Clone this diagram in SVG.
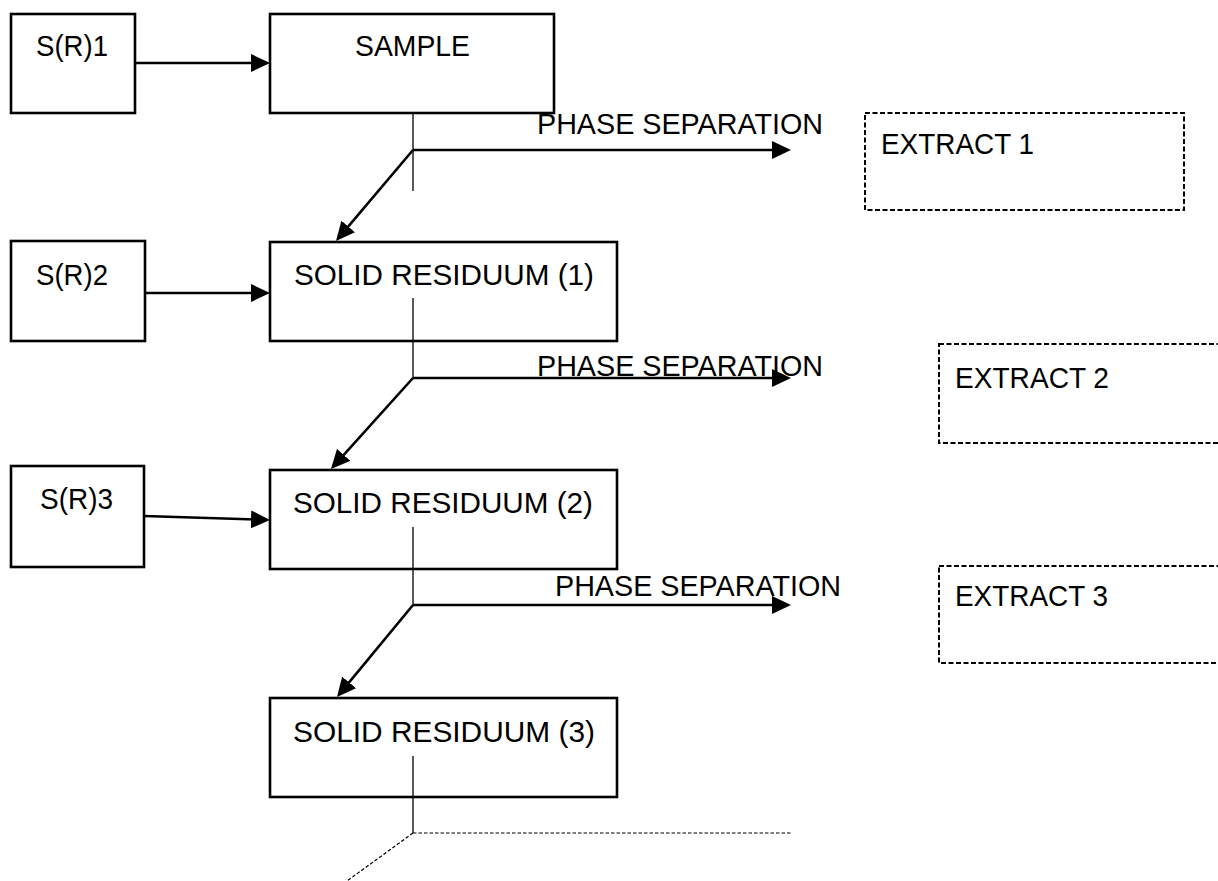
<svg xmlns="http://www.w3.org/2000/svg" width="1218" height="881" viewBox="0 0 1218 881">
<defs>
<marker id="ah" viewBox="0 0 19 18" refX="10" refY="9" markerWidth="19" markerHeight="18" markerUnits="userSpaceOnUse" orient="auto">
<path d="M0,0 L19,9 L0,18 z" fill="#000"/>
</marker>
<style>
.box{fill:#fff;stroke:#000;stroke-width:2.6}
.dbox{fill:none;stroke:#000;stroke-width:2;stroke-dasharray:5 2.5}
.t{font-family:"Liberation Sans",Arial,sans-serif;font-size:30px;fill:#000}
.thick{fill:none;stroke:#000;stroke-width:2.6}
.thin{fill:none;stroke:#000;stroke-width:1.3}
.dash{fill:none;stroke:#000;stroke-width:1.2;stroke-dasharray:3.5 2}
</style>
</defs>
<rect width="1218" height="881" fill="#fff"/>

<g id="sr1"><rect class="box" x="11" y="14" width="124" height="99"/><text class="t" x="36" y="56" textLength="72" lengthAdjust="spacingAndGlyphs">S(R)1</text></g>
<g id="sample"><rect class="box" x="270" y="14" width="284" height="99"/><text class="t" x="355" y="56" textLength="115" lengthAdjust="spacingAndGlyphs">SAMPLE</text></g>
<g id="extract1"><rect class="dbox" x="865" y="113" width="319" height="97"/><text class="t" x="881" y="154" textLength="153" lengthAdjust="spacingAndGlyphs">EXTRACT 1</text></g>

<g id="sr2"><rect class="box" x="11" y="241" width="134" height="100"/><text class="t" x="36" y="285" textLength="72" lengthAdjust="spacingAndGlyphs">S(R)2</text></g>
<g id="residuum1"><rect class="box" x="270" y="242" width="347" height="99"/><text class="t" x="294" y="285" textLength="300" lengthAdjust="spacingAndGlyphs">SOLID RESIDUUM (1)</text></g>
<g id="extract2"><rect class="dbox" x="939" y="344" width="300" height="99"/><text class="t" x="955" y="388" textLength="154" lengthAdjust="spacingAndGlyphs">EXTRACT 2</text></g>

<g id="sr3"><rect class="box" x="11" y="466" width="133" height="101"/><text class="t" x="40" y="509" textLength="73" lengthAdjust="spacingAndGlyphs">S(R)3</text></g>
<g id="residuum2"><rect class="box" x="270" y="470" width="347" height="99"/><text class="t" x="293" y="513" textLength="300" lengthAdjust="spacingAndGlyphs">SOLID RESIDUUM (2)</text></g>
<g id="extract3"><rect class="dbox" x="939" y="566" width="300" height="97"/><text class="t" x="955" y="606" textLength="153" lengthAdjust="spacingAndGlyphs">EXTRACT 3</text></g>

<g id="residuum3"><rect class="box" x="270" y="698" width="347" height="99"/><text class="t" x="293" y="742" textLength="302" lengthAdjust="spacingAndGlyphs">SOLID RESIDUUM (3)</text></g>

<g id="connectors">
<line class="thick" x1="135" y1="63" x2="261" y2="63" marker-end="url(#ah)"/>
<line class="thin" x1="413" y1="113" x2="413" y2="191"/>
<line class="thick" x1="413" y1="150" x2="782" y2="150" marker-end="url(#ah)"/>
<line class="thick" x1="413" y1="150" x2="341.8" y2="234.1" marker-end="url(#ah)"/>

<line class="thick" x1="145" y1="293" x2="261" y2="293" marker-end="url(#ah)"/>
<line class="thin" x1="413" y1="298" x2="413" y2="378"/>
<line class="thick" x1="413" y1="378" x2="782" y2="378" marker-end="url(#ah)"/>
<line class="thick" x1="413" y1="378" x2="337" y2="462.3" marker-end="url(#ah)"/>

<line class="thick" x1="144" y1="516" x2="261" y2="519.7" marker-end="url(#ah)"/>
<line class="thin" x1="413" y1="527" x2="413" y2="605"/>
<line class="thick" x1="413" y1="605" x2="782" y2="605" marker-end="url(#ah)"/>
<line class="thick" x1="413" y1="605" x2="342.7" y2="690.1" marker-end="url(#ah)"/>

<line class="thin" x1="413" y1="756" x2="413" y2="833"/>
<line class="dash" x1="413" y1="833" x2="791" y2="833"/>
<line class="dash" x1="413" y1="833" x2="347" y2="881"/>
</g>
<g id="labels">
<text class="t" x="537" y="134" textLength="286" lengthAdjust="spacingAndGlyphs">PHASE SEPARATION</text>
<text class="t" x="537" y="376" textLength="286" lengthAdjust="spacingAndGlyphs">PHASE SEPARATION</text>
<text class="t" x="555" y="596" textLength="286" lengthAdjust="spacingAndGlyphs">PHASE SEPARATION</text>
</g>
</svg>
